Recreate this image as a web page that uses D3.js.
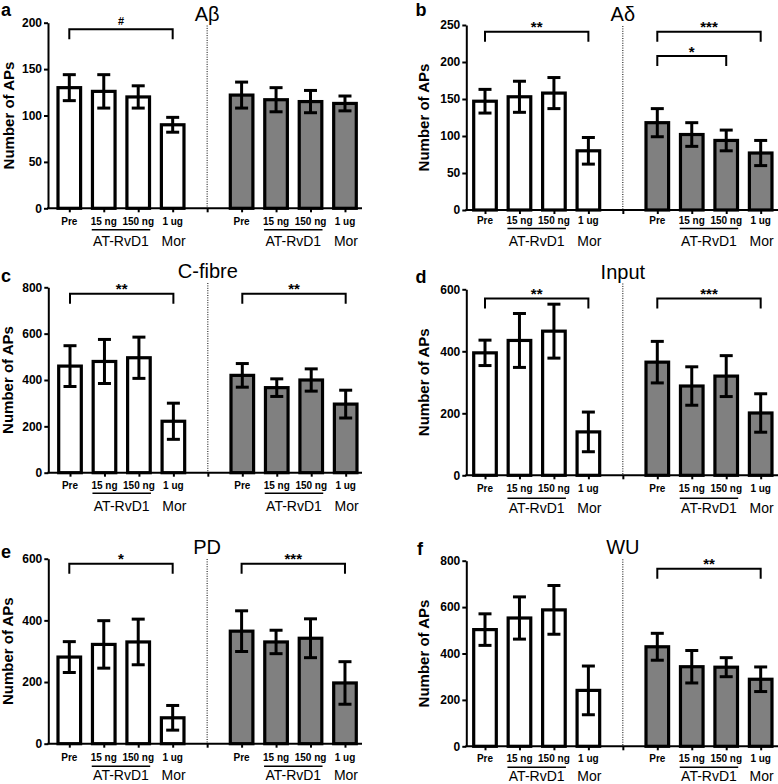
<!DOCTYPE html>
<html>
<head>
<meta charset="utf-8">
<script src="https://cdn.jsdelivr.net/npm/d3@7"></script>
<style>
  html, body { margin: 0; padding: 0; background: #fff; }
  svg { display: block; }
  text { font-family: "Liberation Sans", Arial, Helvetica, sans-serif; }
</style>
</head>
<body>
<svg id="chart" width="778" height="784"></svg>
<script>
// ---------------- DATA ----------------
const categories = ["Pre", "15 ng", "150 ng", "1 ug"];
const groupLabel = "AT-RvD1";
const morLabel = "Mor";
const yAxisTitle = "Number of APs";

const panelLetters = ["a", "b", "c", "d", "e", "f"];
const panelTitles = ["A\u03B2", "A\u03B4", "C-fibre", "Input", "PD", "WU"];
const yMaxima = [200, 250, 800, 600, 600, 800];
const yTickSteps = [50, 50, 200, 200, 200, 200];

// means: 4 white (left group) then 4 grey (right group)
const aMeans = [130, 126, 120, 90, 122, 117, 115, 113];
const aErrors = [14, 18, 12, 8, 14, 13, 12, 8];
const bMeans = [147, 153, 158, 80, 118, 102, 94, 77];
const bErrors = [16, 21, 21, 18, 19, 16, 14, 17];
const cMeans = [460, 480, 496, 222, 420, 367, 400, 296];
const cErrors = [88, 95, 89, 78, 51, 38, 48, 60];
const dMeans = [395, 435, 465, 140, 365, 288, 320, 201];
const dErrors = [41, 87, 87, 64, 67, 62, 66, 62];
const eMeans = [281, 322, 330, 84, 365, 330, 342, 197];
const eErrors = [50, 77, 74, 40, 66, 38, 63, 69];
const fMeans = [503, 553, 588, 241, 429, 343, 341, 289];
const fErrors = [68, 91, 105, 105, 58, 70, 41, 53];

// significance brackets: from/to bar index (0-7), level in data units
const aSig = [{ from: 0, to: 3, level: 193, label: "#" }];
const bSig = [{ from: 0, to: 3, level: 241, label: "**" },
              { from: 4, to: 7, level: 241, label: "***" },
              { from: 4, to: 6, level: 208, label: "*" }];
const cSig = [{ from: 0, to: 3, level: 772, label: "**" },
              { from: 4, to: 7, level: 772, label: "**" }];
const dSig = [{ from: 0, to: 3, level: 570, label: "**" },
              { from: 4, to: 7, level: 570, label: "***" }];
const eSig = [{ from: 0, to: 3, level: 584, label: "*" },
              { from: 4, to: 7, level: 584, label: "***" }];
const fSig = [{ from: 4, to: 7, level: 765, label: "**" }];

const allMeans = [aMeans, bMeans, cMeans, dMeans, eMeans, fMeans];
const allErrors = [aErrors, bErrors, cErrors, dErrors, eErrors, fErrors];
const allSig = [aSig, bSig, cSig, dSig, eSig, fSig];

// ---------------- LAYOUT ----------------
const layouts = [
  { axisX: 48,    top: 22.7,  bottom: 208.3, firstX: 69.3, endX: 362, titleY: 20.5, letterX: 1,     letterY: 16,    ytX: 14,  lbl: 16.5, ul: 21.5, grp: 38 },
  { axisX: 466.3, top: 25,    bottom: 210,   firstX: 485,  endX: 780, titleY: 21,   letterX: 415.5, letterY: 16,    ytX: 429, lbl: 14,   ul: 18.5, grp: 35.5 },
  { axisX: 48.3,  top: 287.3, bottom: 472.7, firstX: 70,   endX: 362, titleY: 278,  letterX: 1,     letterY: 282,   ytX: 13,  lbl: 16.5, ul: 20.5, grp: 38 },
  { axisX: 466.3, top: 289.3, bottom: 475.3, firstX: 485,  endX: 780, titleY: 278.5,letterX: 415.5, letterY: 282.5, ytX: 429, lbl: 17,   ul: 23,   grp: 38 },
  { axisX: 48.3,  top: 558.7, bottom: 743.7, firstX: 69.3, endX: 362, titleY: 554,  letterX: 1,     letterY: 558,   ytX: 13,  lbl: 17,   ul: 22.5, grp: 36.5 },
  { axisX: 466.3, top: 560.7, bottom: 746.3, firstX: 485,  endX: 780, titleY: 554.3,letterX: 417,   letterY: 555.3, ytX: 429, lbl: 16,   ul: 21,   grp: 34.3 }
];
const STEP = 34.46;
const GREY = "#808080";

const svg = d3.select("#chart");

layouts.forEach((L, p) => {
  const g = svg.append("g");
  const means = allMeans[p], errs = allErrors[p];
  const slots = d3.range(9);
  const x = d3.scalePoint().domain(slots).range([L.firstX, L.firstX + 8 * STEP]);
  const y = d3.scaleLinear().domain([0, yMaxima[p]]).range([L.bottom, L.top]);
  const slotOf = i => (i < 4 ? i : i + 1);
  const bars = means.map((m, i) => ({ m, e: errs[i], i, slot: slotOf(i), grey: i >= 4 }));

  // dotted separator
  g.append("line")
    .attr("x1", x(4)).attr("x2", x(4))
    .attr("y1", L.titleY + 5).attr("y2", L.bottom)
    .attr("stroke", "#000").attr("stroke-width", 1)
    .attr("stroke-dasharray", "1,1.4");

  // bars
  const bw = 22.6;
  g.selectAll("rect.bar").data(bars).enter().append("rect")
    .attr("class", "bar")
    .attr("x", d => x(d.slot) - bw / 2)
    .attr("y", d => y(d.m))
    .attr("width", bw)
    .attr("height", d => y(0) - y(d.m))
    .attr("fill", d => d.grey ? GREY : "#fff")
    .attr("stroke", "#000").attr("stroke-width", 3.2);

  // error bars
  const cap = 13;
  const eb = g.selectAll("g.err").data(bars).enter().append("g").attr("class", "err");
  eb.append("line")
    .attr("x1", d => x(d.slot)).attr("x2", d => x(d.slot))
    .attr("y1", d => y(d.m + d.e)).attr("y2", d => y(d.m - d.e))
    .attr("stroke", "#000").attr("stroke-width", 3);
  eb.append("line")
    .attr("x1", d => x(d.slot) - cap / 2).attr("x2", d => x(d.slot) + cap / 2)
    .attr("y1", d => y(d.m + d.e)).attr("y2", d => y(d.m + d.e))
    .attr("stroke", "#000").attr("stroke-width", 3);
  eb.append("line")
    .attr("x1", d => x(d.slot) - cap / 2).attr("x2", d => x(d.slot) + cap / 2)
    .attr("y1", d => y(d.m - d.e)).attr("y2", d => y(d.m - d.e))
    .attr("stroke", "#000").attr("stroke-width", 3);

  // y axis
  const yAxis = d3.axisLeft(y)
    .tickValues(d3.range(0, yMaxima[p] + 1, yTickSteps[p]))
    .tickSize(4).tickPadding(2).tickSizeOuter(0);
  const ya = g.append("g").attr("transform", `translate(${L.axisX},0)`).call(yAxis);
  ya.select(".domain").attr("stroke-width", 2);
  ya.selectAll(".tick line").attr("stroke-width", 2);
  ya.selectAll(".tick text")
    .attr("font-family", "Liberation Sans, Arial, sans-serif")
    .attr("font-size", 12).attr("font-weight", "bold").attr("fill", "#000");

  // x axis (ticks at every slot), custom domain line
  const xAxis = d3.axisBottom(x).tickSize(4).tickFormat("").tickSizeOuter(0);
  const xa = g.append("g").attr("transform", `translate(0,${L.bottom})`).call(xAxis);
  xa.select(".domain").remove();
  xa.selectAll(".tick line").attr("stroke-width", 2);
  g.append("line")
    .attr("x1", L.axisX - 1).attr("x2", L.endX)
    .attr("y1", L.bottom).attr("y2", L.bottom)
    .attr("stroke", "#000").attr("stroke-width", 2);

  // category labels
  g.selectAll("text.cat").data(bars).enter().append("text")
    .attr("class", "cat")
    .attr("x", d => x(d.slot))
    .attr("y", L.bottom + L.lbl)
    .attr("text-anchor", "middle")
    .attr("font-size", 10).attr("font-weight", "bold")
    .text(d => categories[d.i % 4]);

  // group labels
  [0, 5].forEach(s0 => {
    g.append("line")
      .attr("x1", x(s0 + 1) - 12).attr("x2", x(s0 + 2) + 12)
      .attr("y1", L.bottom + L.ul).attr("y2", L.bottom + L.ul)
      .attr("stroke", "#000").attr("stroke-width", 1.6);
    g.append("text")
      .attr("x", (x(s0 + 1) + x(s0 + 2)) / 2)
      .attr("y", L.bottom + L.grp)
      .attr("text-anchor", "middle").attr("font-size", 14)
      .text(groupLabel);
    g.append("text")
      .attr("x", x(s0 + 3) + 1)
      .attr("y", L.bottom + L.grp)
      .attr("text-anchor", "middle").attr("font-size", 14)
      .text(morLabel);
  });

  // significance brackets
  allSig[p].forEach(s => {
    const yy = y(s.level);
    const x1 = x(slotOf(s.from)), x2 = x(slotOf(s.to));
    g.append("path")
      .attr("d", `M${x1},${yy + 10}V${yy}H${x2}V${yy + 10}`)
      .attr("fill", "none").attr("stroke", "#000").attr("stroke-width", 2);
    const isHash = s.label === "#";
    g.append("text")
      .attr("x", (x1 + x2) / 2)
      .attr("y", isHash ? yy - 4.3 : yy + 0.5)
      .attr("text-anchor", "middle")
      .attr("font-size", isHash ? 11 : 15).attr("font-weight", "bold")
      .text(s.label);
  });

  // title
  g.append("text")
    .attr("x", x(4)).attr("y", L.titleY)
    .attr("text-anchor", "middle").attr("font-size", 20)
    .text(panelTitles[p]);

  // panel letter
  g.append("text")
    .attr("x", L.letterX).attr("y", L.letterY)
    .attr("font-size", 18).attr("font-weight", "bold")
    .text(panelLetters[p]);

  // y axis title
  g.append("text")
    .attr("transform", `translate(${L.ytX},${(L.top + L.bottom) / 2}) rotate(-90)`)
    .attr("text-anchor", "middle")
    .attr("font-size", 15).attr("font-weight", "bold")
    .text(yAxisTitle);
});
</script>
</body>
</html>
